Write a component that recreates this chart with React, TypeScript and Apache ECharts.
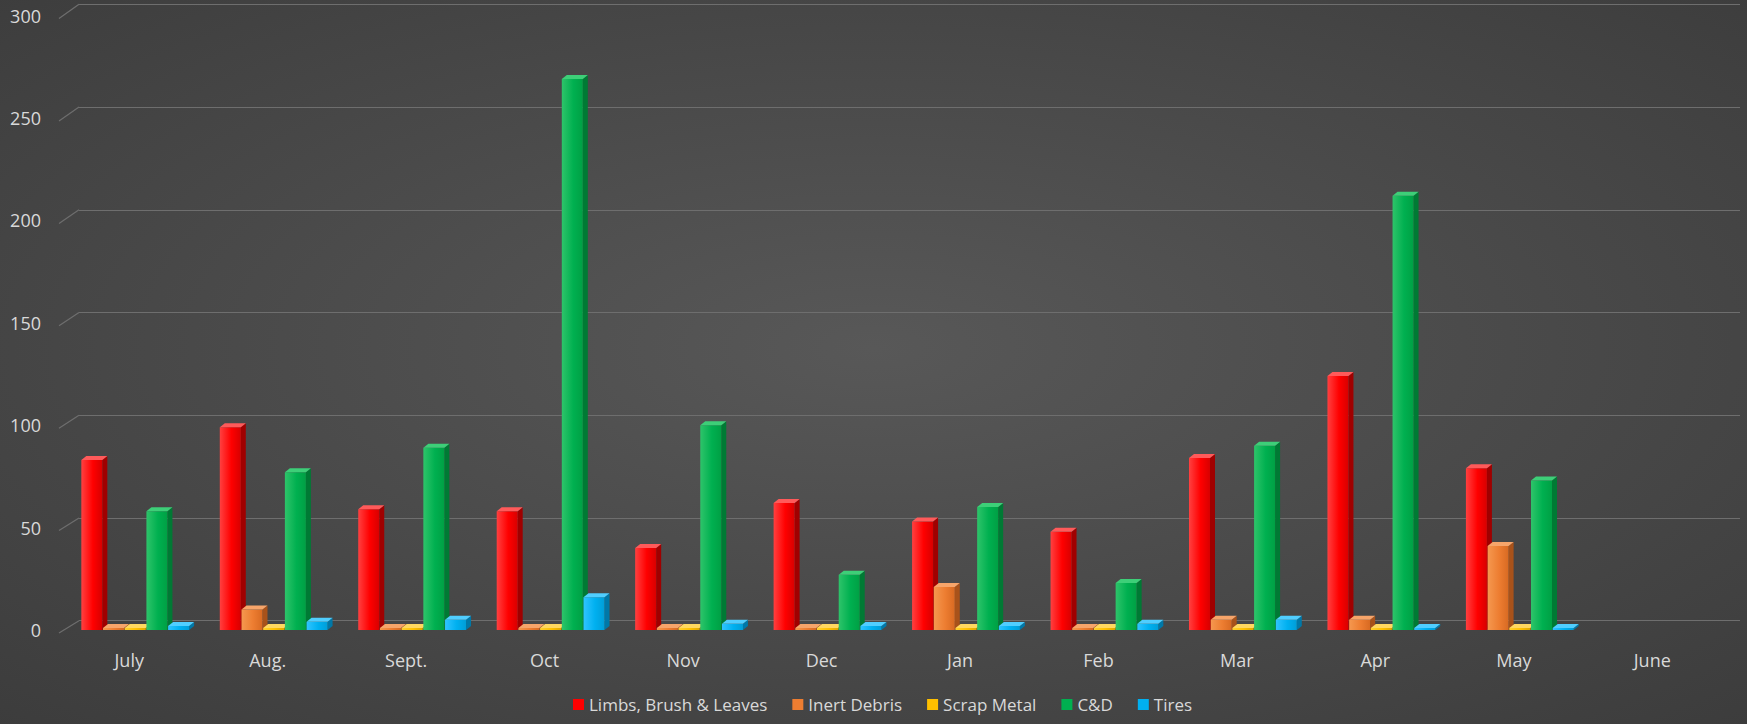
import React, { useEffect, useRef } from "react";
import * as echarts from "echarts";

const categories = ["July", "Aug.", "Sept.", "Oct", "Nov", "Dec", "Jan", "Feb", "Mar", "Apr", "May", "June"];
const limbs = [83, 99, 59, 58, 40, 62, 53, 48, 84, 124, 79, null];
const inert = [0, 10, 0, 0, 0, 0, 21, 1, 5, 5, 41, null];
const scrap = [0, 1, 1, 0, 1, 0, 0, 0, 1, 1, 1, null];
const cd = [58, 77, 89, 269, 100, 27, 60, 23, 90, 212, 73, null];
const tires = [2, 4, 5, 16, 3, 2, 2, 3, 5, 1, 1, null];
const seriesNames = ["Limbs, Brush & Leaves", "Inert Debris", "Scrap Metal", "C&D", "Tires"];
const yTicks = [0, 50, 100, 150, 200, 250, 300];

const palette = [
  { base: "#ff0000", light: "#ff4040", dark: "#d80000", side: "#a00000", top: "#ff5a5a" },
  { base: "#ed7d31", light: "#f5984f", dark: "#d86a22", side: "#a8521a", top: "#f7a56a" },
  { base: "#ffc000", light: "#ffd030", dark: "#e0a800", side: "#b08400", top: "#ffd860" },
  { base: "#00b050", light: "#2ec46a", dark: "#00a044", side: "#007a34", top: "#3dcf78" },
  { base: "#00b0f0", light: "#30c4ff", dark: "#009ed8", side: "#0078a8", top: "#50ceff" },
];

const FONT = "'Open Sans', sans-serif";

export default function App() {
  const ref = useRef<HTMLDivElement>(null);
  useEffect(() => {
    document.body.style.margin = "0";
    const chart = echarts.init(ref.current!, null, { renderer: "svg" });
    const all = [limbs, inert, scrap, cd, tires];
    const W = 21;
    const SLOT = 21.7;
    const OFF = 6;
    const DX = 5;
    const DY = -4;

    const series: any[] = all.map((vals, s) => ({
      type: "custom",
      name: seriesNames[s],
      xAxisIndex: 0,
      yAxisIndex: 0,
      itemStyle: { color: palette[s].base },
      encode: { x: 0, y: 1 },
      data: vals
        .map((v, i) => (v == null ? null : [i, v]))
        .filter((d) => d !== null),
      renderItem: (params: any, api: any) => {
        const cat = api.value(0);
        const val = api.value(1);
        const p = api.coord([cat, val]);
        const b = api.coord([cat, 0]);
        const pc = palette[params.seriesIndex];
        const x0 = p[0] + OFF + (params.seriesIndex - 2) * SLOT - W / 2;
        const base = b[1];
        const top = Math.min(p[1], base - 2);
        return {
          type: "group",
          children: [
            {
              type: "polygon",
              shape: {
                points: [
                  [x0 + W, top],
                  [x0 + W + DX, top + DY],
                  [x0 + W + DX, base + DY],
                  [x0 + W, base],
                ],
              },
              style: { fill: pc.side },
            },
            {
              type: "rect",
              shape: { x: x0, y: top, width: W, height: base - top },
              style: {
                fill: new echarts.graphic.LinearGradient(0, 0, 1, 0, [
                  { offset: 0, color: pc.light },
                  { offset: 0.55, color: pc.base },
                  { offset: 1, color: pc.dark },
                ]),
              },
            },
            {
              type: "polygon",
              shape: {
                points: [
                  [x0, top],
                  [x0 + DX, top + DY],
                  [x0 + W + DX, top + DY],
                  [x0 + W, top],
                ],
              },
              style: { fill: pc.top },
            },
          ],
        };
      },
    }));

    const option: any = {
      animation: false,
      backgroundColor: {
        type: "radial",
        x: 0.5,
        y: 0.48,
        r: 1.3,
        colorStops: [
          { offset: 0, color: "#585858" },
          { offset: 1, color: "#262626" },
        ],
      },
      grid: [
        { left: 60, right: 25.5, top: 15.6, bottom: 94 },
        { left: 79, right: 7, top: 4.3, bottom: 103.3 },
      ],
      xAxis: [
        {
          type: "category",
          gridIndex: 0,
          data: categories,
          axisLine: { show: false },
          axisTick: { show: false },
          axisLabel: { color: "#d9d9d9", fontFamily: FONT, fontSize: 18, margin: 21 },
          splitLine: { show: false },
        },
        {
          type: "value",
          gridIndex: 1,
          min: 0,
          max: 1,
          show: false,
        },
      ],
      yAxis: [
        {
          type: "value",
          gridIndex: 0,
          min: 0,
          max: 300,
          interval: 50,
          axisLine: { show: false },
          axisTick: { show: false },
          splitLine: { show: false },
          axisLabel: {
            color: "#d9d9d9",
            fontFamily: FONT,
            fontSize: 18,
            margin: 19,
            padding: [12, 0, 0, 0],
            formatter: (v: number) => (yTicks.includes(v) ? String(v) : ""),
          },
        },
        {
          type: "value",
          gridIndex: 1,
          min: 0,
          max: 300,
          interval: 50,
          axisLine: { show: false },
          axisTick: { show: false },
          axisLabel: { show: false },
          splitLine: { show: true, lineStyle: { color: "#6e6e6e", width: 1.2 } },
        },
      ],
      legend: {
        bottom: 6,
        left: 568,
        icon: "rect",
        itemWidth: 11,
        itemHeight: 11,
        itemGap: 25,
        textStyle: { color: "#d9d9d9", fontFamily: FONT, fontSize: 17 },
        data: seriesNames,
      },
      series,
    };
    chart.setOption(option);

    const lines = yTicks.map((v) => {
      const yf = (chart.convertToPixel({ yAxisIndex: 0 } as any, v) as number) + 3;
      const yb = chart.convertToPixel({ yAxisIndex: 1 } as any, v) as number;
      return {
        type: "line",
        shape: { x1: 59, y1: yf, x2: 79, y2: yb },
        style: { stroke: "#6e6e6e", lineWidth: 1.2 },
        silent: true,
      };
    });
    chart.setOption({ graphic: lines });

    return () => chart.dispose();
  }, []);
  return <div ref={ref} style={{ width: 1747, height: 724 }} />;
}
